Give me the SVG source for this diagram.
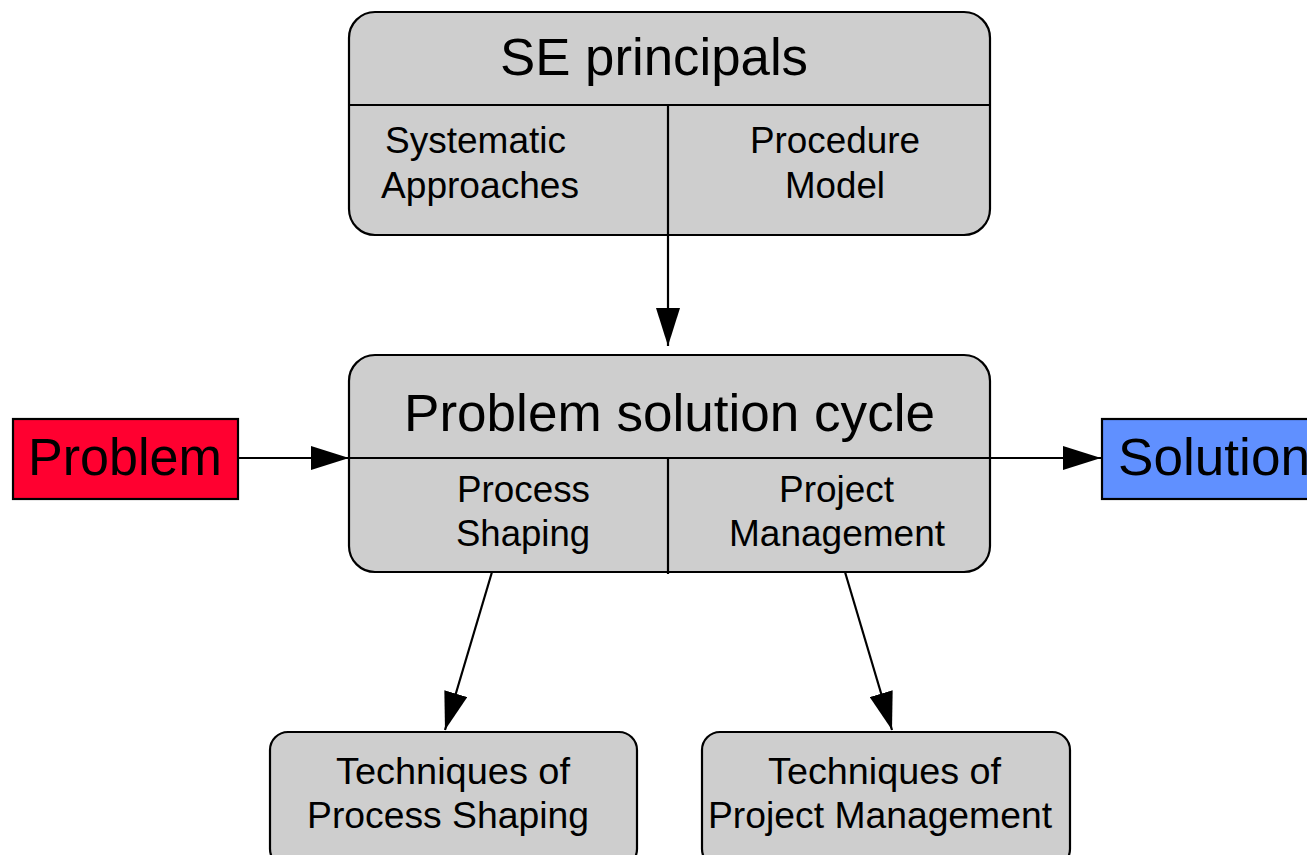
<svg xmlns="http://www.w3.org/2000/svg" width="1307" height="855" viewBox="0 0 1307 855">
<style>
.box{fill:#cecece;stroke:#000;stroke-width:2.2}
.ln{stroke:#000;stroke-width:2.2;fill:none}
.t{font-family:"Liberation Sans",Arial,sans-serif;fill:#000;text-anchor:middle}
.big{font-size:51px}
.med{font-size:36px}
</style>
<defs>
<marker id="ah" markerUnits="userSpaceOnUse" markerWidth="40" markerHeight="24" refX="38" refY="12" orient="auto">
<path d="M0,0 L38,12 L0,24 Z" fill="#000"/>
</marker>
</defs>
<g id="se-principals">
<rect class="box" x="349" y="12" width="641" height="223" rx="26"/>
<line class="ln" x1="349" y1="105" x2="991" y2="105"/>
<line class="ln" x1="668" y1="105" x2="668" y2="235"/>
<text class="t big" x="654" y="75" textLength="308" lengthAdjust="spacingAndGlyphs">SE principals</text>
<text class="t med" x="475.5" y="153" textLength="181" lengthAdjust="spacingAndGlyphs">Systematic</text>
<text class="t med" x="480" y="198" textLength="198" lengthAdjust="spacingAndGlyphs">Approaches</text>
<text class="t med" x="835" y="153" textLength="170" lengthAdjust="spacingAndGlyphs">Procedure</text>
<text class="t med" x="835" y="198" textLength="100" lengthAdjust="spacingAndGlyphs">Model</text>
</g>
<g id="problem-solution-cycle">
<rect class="box" x="349" y="355" width="641" height="217" rx="26"/>
<line class="ln" x1="668" y1="458" x2="668" y2="574"/>
<text class="t big" x="669.5" y="431" textLength="531" lengthAdjust="spacingAndGlyphs">Problem solution cycle</text>
<text class="t med" x="523.5" y="502" textLength="133" lengthAdjust="spacingAndGlyphs">Process</text>
<text class="t med" x="523" y="546" textLength="134" lengthAdjust="spacingAndGlyphs">Shaping</text>
<text class="t med" x="836.5" y="502" textLength="115" lengthAdjust="spacingAndGlyphs">Project</text>
<text class="t med" x="837" y="546" textLength="216" lengthAdjust="spacingAndGlyphs">Management</text>
</g>
<g id="problem">
<rect x="13" y="419" width="225" height="80" fill="#ff0030" stroke="#000" stroke-width="2.2"/>
<text class="t big" x="28" y="475" style="text-anchor:start" textLength="194" lengthAdjust="spacingAndGlyphs">Problem</text>
</g>
<g id="solution">
<rect x="1102" y="419" width="230" height="80" fill="#6090ff" stroke="#000" stroke-width="2.2"/>
<text class="t big" x="1118" y="475" style="text-anchor:start" textLength="192" lengthAdjust="spacingAndGlyphs">Solution</text>
</g>
<g id="techniques-process-shaping">
<rect class="box" x="270" y="732" width="367" height="135" rx="18"/>
<text class="t med" x="453" y="784" textLength="234" lengthAdjust="spacingAndGlyphs">Techniques of</text>
<text class="t med" x="448" y="828" textLength="282" lengthAdjust="spacingAndGlyphs">Process Shaping</text>
</g>
<g id="techniques-project-management">
<rect class="box" x="702" y="732" width="368" height="135" rx="18"/>
<text class="t med" x="884.5" y="784" textLength="233" lengthAdjust="spacingAndGlyphs">Techniques of</text>
<text class="t med" x="880" y="828" textLength="344" lengthAdjust="spacingAndGlyphs">Project Management</text>
</g>
<g id="connectors">
<line class="ln" x1="668" y1="235" x2="668" y2="346" marker-end="url(#ah)"/>
<line class="ln" x1="238" y1="458" x2="349" y2="458" marker-end="url(#ah)"/>
<line class="ln" x1="349" y1="458" x2="990" y2="458"/>
<line class="ln" x1="990" y1="458" x2="1101" y2="458" marker-end="url(#ah)"/>
<line class="ln" x1="492" y1="572" x2="445" y2="730" marker-end="url(#ah)"/>
<line class="ln" x1="845" y1="572" x2="892" y2="730" marker-end="url(#ah)"/>
</g>
</svg>
